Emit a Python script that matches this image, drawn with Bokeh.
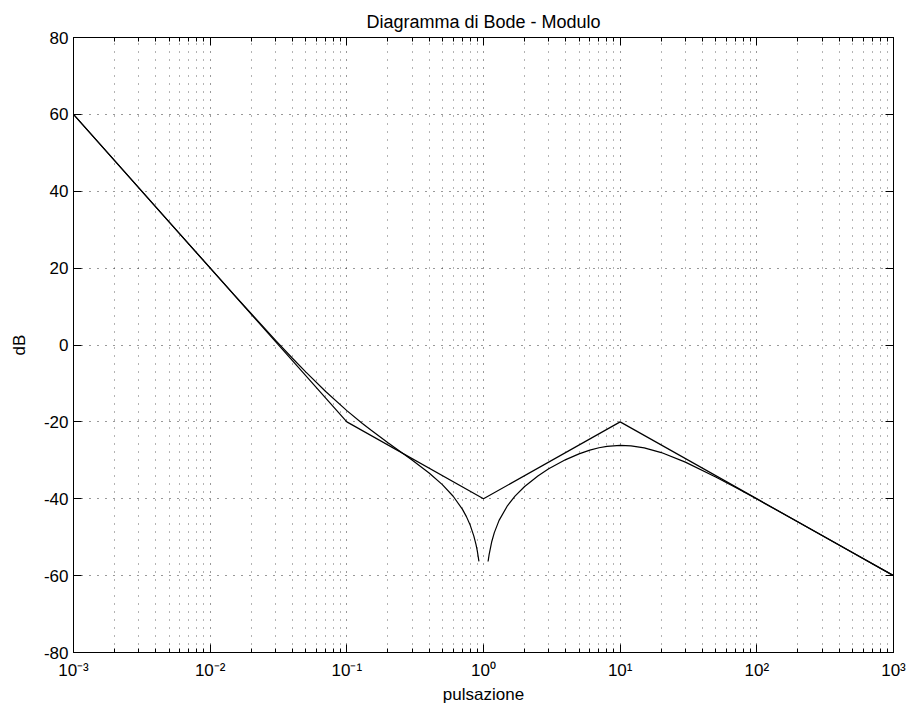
import json
from bokeh.plotting import figure
from bokeh.models import FixedTicker, CustomJSTickFormatter, LogAxis, LinearAxis
from bokeh.embed import file_html
from bokeh.resources import INLINE

# ---- data ----
freq = [0.001, 0.002, 0.005, 0.01, 0.015, 0.02, 0.03, 0.04, 0.05, 0.07,
        0.1, 0.13, 0.15, 0.2, 0.25, 0.3, 0.4, 0.5, 0.6, 0.7,
        0.75, 0.8, 0.85, 0.88, 0.9, 0.926, 1.0, 1.08, 1.1, 1.15,
        1.2, 1.3, 1.5, 1.7, 2.0, 2.5, 3.0, 4.0, 5.0, 6.0,
        7.0, 8.0, 10.0, 12.0, 15.0, 20.0, 30.0, 50.0, 70.0, 100.0,
        200.0, 500.0, 1000.0]
mag_db = [60.0, 47.96, 32.05, 20.04, 13.05, 8.13, 1.29, -3.45, -7.01, -12.11,
          -17.08, -20.41, -22.12, -25.41, -27.88, -29.91, -33.30, -36.33, -39.35, -42.70,
          -44.65, -46.92, -49.72, -51.83, -53.52, -56.30, float("nan"), -56.33, -54.46, -51.12,
          -48.81, -45.63, -41.76, -39.32, -36.81, -34.08, -32.22, -29.81, -28.32, -27.36,
          -26.74, -26.37, -26.11, -26.23, -26.77, -27.98, -30.47, -34.33, -37.08, -40.09,
          -46.04, -53.98, -60.00]
asym_freq = [0.001, 0.1, 1.0, 10.0, 1000.0]
asym_db = [60, -20, -40, -20, -60]

x_tick_values = [1e-3, 1e-2, 1e-1, 1.0, 10.0, 100.0, 1000.0]
x_tick_labels = ["10\u207b\u00b3", "10\u207b\u00b2", "10\u207b\u00b9", "10\u2070",
                 "10\u00b9", "10\u00b2", "10\u00b3"]
y_tick_values = [-80, -60, -40, -20, 0, 20, 40, 60, 80]
x_minor_ticks = [m * d for d in x_tick_values[:-1] for m in range(2, 10)]

FONT = "Liberation Sans"

p = figure(frame_width=820, frame_height=615, x_axis_type="log",
           x_range=(1e-3, 1e3), y_range=(-80, 80),
           output_backend="svg", toolbar_location=None,
           min_border_left=73, min_border_right=16,
           min_border_top=37, min_border_bottom=52,
           title="Diagramma di Bode - Modulo")
p.title.align = "center"
p.title.text_font = FONT
p.title.text_font_style = "normal"
p.title.text_font_size = "18px"
p.title.text_color = "black"
p.title.standoff = 11

p.background_fill_color = "white"
p.border_fill_color = "white"
p.outline_line_color = "black"
p.outline_line_width = 1

xt = FixedTicker(ticks=x_tick_values, minor_ticks=x_minor_ticks)
yt = FixedTicker(ticks=y_tick_values, minor_ticks=[])

fmt = CustomJSTickFormatter(code="const L = %s; const e = Math.round(Math.log10(tick)); return L[e + 3];"
                            % json.dumps(x_tick_labels))
yfmt = CustomJSTickFormatter(code="return tick.toFixed(0);")
blank = CustomJSTickFormatter(code="return '';")

def style_axis(ax, minor=True, size="17px"):
    ax.major_tick_in = 8
    ax.major_tick_out = 0
    ax.minor_tick_in = 4 if minor else 0
    ax.minor_tick_out = 0
    ax.major_tick_line_color = "black"
    ax.minor_tick_line_color = "black" if minor else None
    ax.axis_line_color = "black"
    ax.major_label_text_font = FONT
    ax.major_label_text_font_size = size
    ax.major_label_text_color = "black"
    ax.axis_label_text_font = FONT
    ax.axis_label_text_font_size = "17px"
    ax.axis_label_text_font_style = "normal"
    ax.axis_label_text_color = "black"

xa = p.xaxis[0]
xa.ticker = xt
xa.formatter = fmt
xa.axis_label = "pulsazione"
style_axis(xa)
xa.major_label_standoff = 8
xa.axis_label_standoff = 2

ya = p.yaxis[0]
ya.ticker = yt
ya.formatter = yfmt
ya.axis_label = "dB"
style_axis(ya, minor=False)
ya.major_label_standoff = 5
ya.axis_label_standoff = 12

top = LogAxis(ticker=xt, formatter=blank, major_label_standoff=0)
style_axis(top, size="0px")
p.add_layout(top, "above")
right = LinearAxis(ticker=yt, formatter=blank, major_label_standoff=0)
style_axis(right, minor=False, size="0px")
p.add_layout(right, "right")

p.xgrid.ticker = xt
p.ygrid.ticker = yt
for g in (p.xgrid[0], p.ygrid[0]):
    g.grid_line_color = "black"
    g.grid_line_dash = "1 7"
    g.grid_line_width = 1
    g.grid_line_alpha = 0.8
p.xgrid[0].minor_grid_line_color = "black"
p.xgrid[0].minor_grid_line_dash = "1 7"
p.xgrid[0].minor_grid_line_alpha = 0.6

p.line(asym_freq, asym_db, line_color="black", line_width=1.2)
p.line(freq, mag_db, line_color="black", line_width=1.2)

open("out.html", "w").write(file_html(p, INLINE))
